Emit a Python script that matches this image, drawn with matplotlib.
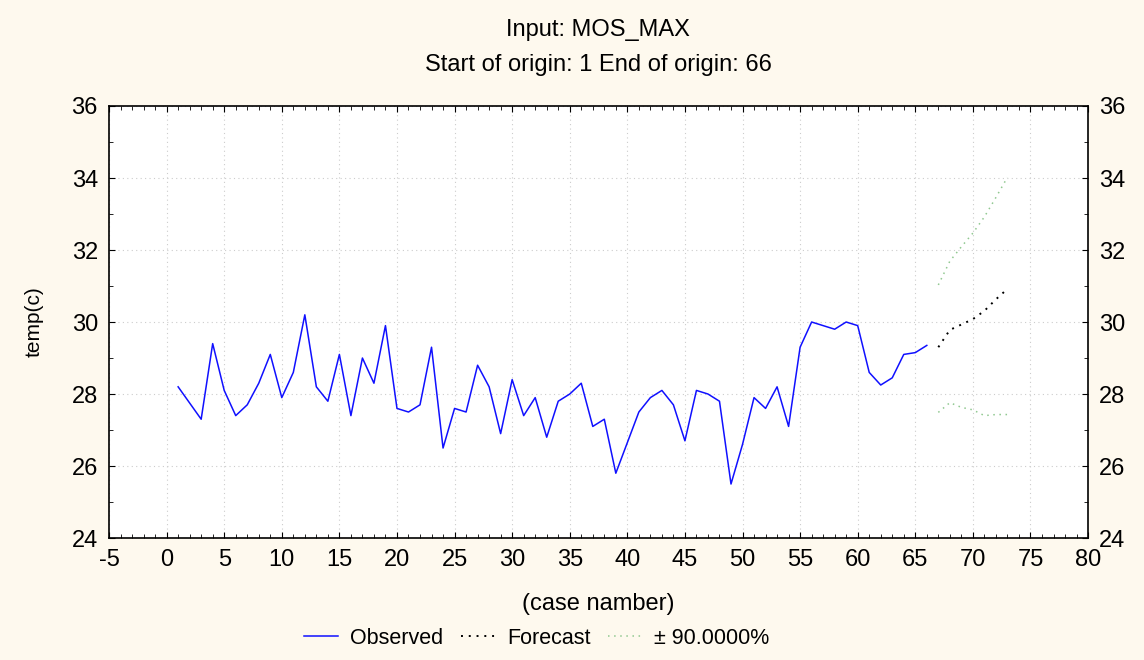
import numpy as np
import matplotlib
matplotlib.use("Agg")
import matplotlib.pyplot as plt
from matplotlib.ticker import MultipleLocator

plt.rcParams['font.family'] = ['Liberation Sans', 'DejaVu Sans']
plt.rcParams['axes.unicode_minus'] = False

# Observed series (case 1..66)
observed = [28.2, 27.75, 27.3, 29.4, 28.1, 27.4, 27.7, 28.3, 29.1, 27.9,
            28.6, 30.2, 28.2, 27.8, 29.1, 27.4, 29.0, 28.3, 29.9, 27.6,
            27.5, 27.7, 29.3, 26.5, 27.6, 27.5, 28.8, 28.2, 26.9, 28.4,
            27.4, 27.9, 26.8, 27.8, 28.0, 28.3, 27.1, 27.3, 25.8, 26.65,
            27.5, 27.9, 28.1, 27.7, 26.7, 28.1, 28.0, 27.8, 25.5, 26.6,
            27.9, 27.6, 28.2, 27.1, 29.3, 30.0, 29.9, 29.8, 30.0, 29.9,
            28.6, 28.25, 28.45, 29.1, 29.15, 29.35]
obs_cases = np.arange(1, len(observed) + 1)

# Forecast (case 67..73) and 90% band
fc_cases = [67, 68, 69, 70, 71, 72, 73]
forecast = [29.3, 29.78, 29.93, 30.08, 30.31, 30.63, 30.92]
upper = [31.03, 31.69, 32.09, 32.47, 32.92, 33.46, 34.02]
lower = [27.49, 27.76, 27.63, 27.56, 27.40, 27.43, 27.43]

bg = '#fef9ee'
fig = plt.figure(figsize=(11.44, 6.6), dpi=100, facecolor=bg)
ax = fig.add_axes([0.0953, 0.1848, 0.8558, 0.6546])
ax.set_facecolor('white')

ax.plot(obs_cases, observed, color='#1010ff', lw=1.1, label='Observed')
ax.plot(fc_cases, forecast, color='black', lw=1.4, linestyle=(0, (1, 3)), label='Forecast')
ax.plot(fc_cases, upper, color='#90c890', lw=1.1, linestyle=(0, (1, 3)), label='± 90.0000%')
ax.plot(fc_cases, lower, color='#90c890', lw=1.1, linestyle=(0, (1, 3)))

ax.set_xlim(-5, 80)
ax.set_ylim(24, 36)
ax.xaxis.set_major_locator(MultipleLocator(5))
ax.xaxis.set_minor_locator(MultipleLocator(1))
ax.yaxis.set_major_locator(MultipleLocator(2))
ax.yaxis.set_minor_locator(MultipleLocator(1))
ax.grid(True, which='major', color='#cccccc', linestyle=(0, (1, 3)), lw=0.8)
ax.tick_params(which='both', direction='in', top=True, right=True,
               labelright=True, labelsize=17, color='black')
ax.tick_params(which='major', length=4, pad=8)
ax.tick_params(which='minor', length=3)
for s in ax.spines.values():
    s.set_linewidth(1.2)

ax.set_xlabel('(case namber)', fontsize=17, labelpad=16)
ax.set_ylabel('temp(c)', fontsize=15, labelpad=20)

fig.text(0.523, 0.955, 'Input: MOS_MAX', ha='center', va='center', fontsize=17)
fig.text(0.523, 0.902, 'Start of origin: 1 End of origin: 66', ha='center', va='center', fontsize=17)

fig.legend(loc='lower center', bbox_to_anchor=(0.469, -0.012), ncol=3, frameon=False,
           fontsize=15.5, handlelength=1.6, handletextpad=0.55, columnspacing=0.8)

fig.savefig('out.png', dpi=100, facecolor=bg)
